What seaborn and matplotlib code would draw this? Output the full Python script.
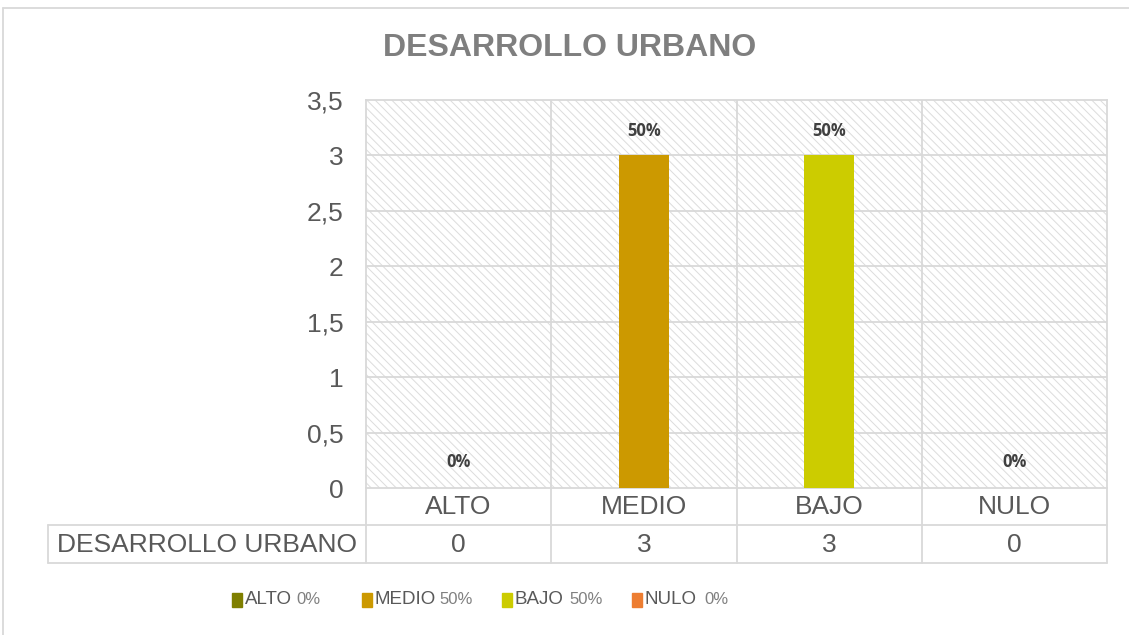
import matplotlib
matplotlib.use("Agg")
import matplotlib.pyplot as plt
from matplotlib.patches import Rectangle
from matplotlib.lines import Line2D
import seaborn as sns

# data
categorias = ["ALTO", "MEDIO", "BAJO", "NULO"]
valores = [0, 3, 3, 0]
porcentajes = ["0%", "50%", "50%", "0%"]
colores = ["#7F7F00", "#CC9900", "#CCCC00", "#ED7D31"]
serie = "DESARROLLO URBANO"
yticks = [0, 0.5, 1, 1.5, 2, 2.5, 3, 3.5]

sns.set_style("white")
plt.rcParams["font.family"] = ["Liberation Sans", "DejaVu Sans"]
plt.rcParams["hatch.linewidth"] = 0.7

W, H = 1129, 635
fig = plt.figure(figsize=(W / 100, H / 100), dpi=100)

# plot area in pixels
x0, x1, ytop, ybot = 366, 1107, 100, 488
ax = fig.add_axes([x0 / W, 1 - ybot / H, (x1 - x0) / W, (ybot - ytop) / H])

grid_c = "#D9D9D9"
txt_c = "#595959"

# hatched background (each backslash = 6 lines per inch)
bg = Rectangle((0, 0), 1, 1, transform=ax.transAxes, facecolor="white",
               edgecolor="#DCDCDC", hatch="\\" * 4, linewidth=0, zorder=0)
ax.add_patch(bg)

sns.barplot(x=categorias, y=valores, hue=categorias, palette=colores,
            legend=False, width=0.27, saturation=1, linewidth=0, ax=ax, zorder=3)

ax.set_xlim(-0.5, 3.5)
ax.set_ylim(0, 3.5)
ax.set_yticks(yticks)
ax.set_yticklabels([f"{t:g}".replace(".", ",") for t in yticks],
                   fontsize=19, color=txt_c)
ax.tick_params(axis="y", length=0, pad=16)
ax.set_xticks([])
ax.set_xlabel("")
ax.set_ylabel("")
for y in yticks[1:-1]:
    ax.axhline(y, color=grid_c, lw=1.3, zorder=1)
for xb in [0.5, 1.5, 2.5]:
    ax.axvline(xb, color=grid_c, lw=1.3, zorder=1)
for s in ax.spines.values():
    s.set_color(grid_c)
    s.set_linewidth(1.3)

# data labels
for i, (v, p) in enumerate(zip(valores, porcentajes)):
    ax.annotate(p, (i, v), xytext=(0, 24 if v else 26), textcoords="offset pixels",
                ha="center", va="center", fontsize=12, fontweight="bold",
                color="#404040", family=["Open Sans", "DejaVu Sans"])

# data table under the axis
ph = ybot - ytop
def ay(py):
    return (ybot - py) / ph

r1, r2 = 525, 563
lab_x = -0.5 + (48 - x0) / ((x1 - x0) / 4)
tr = ax.get_xaxis_transform()
kw = dict(color=grid_c, lw=1.3, transform=tr, clip_on=False)
for yy in [r1, r2]:
    ax.add_line(Line2D([lab_x, 3.5], [ay(yy)] * 2, **kw))
for xb in [-0.5, 0.5, 1.5, 2.5, 3.5]:
    ax.add_line(Line2D([xb, xb], [0, ay(r2)], **kw))
ax.add_line(Line2D([lab_x, lab_x], [ay(r1), ay(r2)], **kw))

for i, c in enumerate(categorias):
    ax.text(i, ay((ybot + r1) / 2 + 1), c, transform=tr, ha="center", va="center",
            fontsize=19, color=txt_c)
    ax.text(i, ay((r1 + r2) / 2 + 1), str(valores[i]), transform=tr, ha="center",
            va="center", fontsize=19, color=txt_c)
ax.text((lab_x - 0.5) / 2, ay((r1 + r2) / 2 + 1), serie, transform=tr,
        ha="center", va="center", fontsize=19, color=txt_c)

# title
fig.text(570 / W, 1 - 48 / H, serie, ha="center", va="center", fontsize=23,
         fontweight="bold", color="#7F7F7F")

# legend drawn by hand
leg_y = 600
sq_x = [232, 362, 502, 632]
pct_x = [296, 439, 569, 704]
for xs, xp, c, col, p in zip(sq_x, pct_x, categorias, colores, porcentajes):
    fig.patches.append(Rectangle((xs / W, 1 - (leg_y + 7) / H), 10 / W, 14 / H,
                                 transform=fig.transFigure, color=col))
    fig.text((xs + 13) / W, 1 - leg_y / H, c, ha="left", va="center",
             fontsize=13.5, color=txt_c)
    fig.text(xp / W, 1 - leg_y / H, p, ha="left", va="center",
             fontsize=12, color="#808080")

# chart frame: only top and left edges show
fig.lines.append(Line2D([3 / W, 3 / W], [0, 1 - 8 / H], transform=fig.transFigure,
                        color=grid_c, lw=1.3))
fig.lines.append(Line2D([3 / W, 1], [1 - 8 / H] * 2, transform=fig.transFigure,
                        color=grid_c, lw=1.3))

fig.savefig("out.png", dpi=100)
